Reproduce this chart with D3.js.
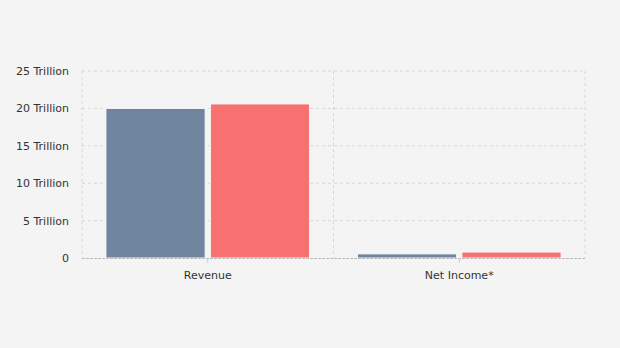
<!DOCTYPE html>
<html>
<head>
<meta charset="utf-8">
<script src="https://cdn.jsdelivr.net/npm/d3@7"></script>
<style>
	body { margin: 0; background: #f4f4f4; }
	svg { display: block; overflow: visible; }
	text { font-family: "DejaVu Sans", Verdana, sans-serif; font-size: 11px; fill: #333; }
</style>
</head>
<body>
<div id="chart"></div>
<script>
	const categories = ["Revenue", "Net Income*"];
	const seriesNames = ["Prior", "Current"];
	const prior = [20.0e12, 0.55e12];
	const current = [20.6e12, 0.8e12];
	const yTicks = [0, 5e12, 10e12, 15e12, 20e12, 25e12];
	const colors = ["#6f849e", "#f87171"];

	const width = 620, height = 348;
	const margin = { top: 71, right: 35, bottom: 90, left: 82 };
	const innerWidth = width - margin.left - margin.right;
	const innerHeight = height - margin.top - margin.bottom;

	const svg = d3.select("#chart").append("svg")
		.attr("width", width).attr("height", height);
	const g = svg.append("g")
		.attr("transform", `translate(${margin.left},${margin.top})`);

	const x0 = d3.scaleBand().domain(categories).range([0, innerWidth]);
	const x1 = d3.scaleBand().domain(seriesNames)
		.range([0, x0.bandwidth() * 0.81]).paddingInner(0.05);
	const groupOffset = x0.bandwidth() * 0.095;
	const y = d3.scaleLinear().domain([0, 25e12]).range([innerHeight, 0]);

	const fmt = v => v === 0 ? "0" : (v / 1e12) + " Trillion";

	// horizontal grid
	g.selectAll(".hgrid").data(yTicks.slice(1)).enter().append("line")
		.attr("x1", 0).attr("x2", innerWidth)
		.attr("y1", d => y(d)).attr("y2", d => y(d))
		.attr("stroke", "#d6d6d6").attr("stroke-dasharray", "3,3");

	// vertical grid at category edges
	const edges = categories.map(c => x0(c)).concat([innerWidth]);
	g.selectAll(".vgrid").data(edges).enter().append("line")
		.attr("x1", d => d).attr("x2", d => d)
		.attr("y1", 0).attr("y2", innerHeight)
		.attr("stroke", "#d6d6d6").attr("stroke-dasharray", "3,3");

	// bars
	const rows = categories.map((c, i) => ({ cat: c, vals: [prior[i], current[i]] }));
	const groups = g.selectAll(".grp").data(rows).enter().append("g")
		.attr("transform", d => `translate(${x0(d.cat) + groupOffset},0)`);
	groups.selectAll("rect")
		.data(d => d.vals.map((v, j) => ({ key: seriesNames[j], v: v, j: j })))
		.enter().append("rect")
		.attr("x", d => x1(d.key))
		.attr("width", x1.bandwidth())
		.attr("y", d => y(d.v))
		.attr("height", d => innerHeight - y(d.v))
		.attr("fill", d => colors[d.j])
		.attr("stroke", "#fafafa").attr("stroke-width", 1);

	// y axis labels
	const yAxis = d3.axisLeft(y).tickValues(yTicks).tickFormat(fmt).tickSize(0).tickPadding(13);
	const yAxisG = g.append("g").call(yAxis);
	yAxisG.select(".domain").remove();
	yAxisG.selectAll("text").attr("font-size", null).attr("font-family", null);

	// x axis
	const xAxis = d3.axisBottom(x0).tickSize(5).tickPadding(8);
	const xAxisG = g.append("g").attr("transform", `translate(0,${innerHeight})`).call(xAxis);
	xAxisG.select(".domain").attr("stroke", "#bbb").attr("stroke-dasharray", "3,1")
		.attr("d", `M0,0.5H${innerWidth}`);
	xAxisG.selectAll(".tick line").attr("stroke", "#ccc");
	xAxisG.selectAll("text").attr("font-size", null).attr("font-family", null);
</script>
</body>
</html>
